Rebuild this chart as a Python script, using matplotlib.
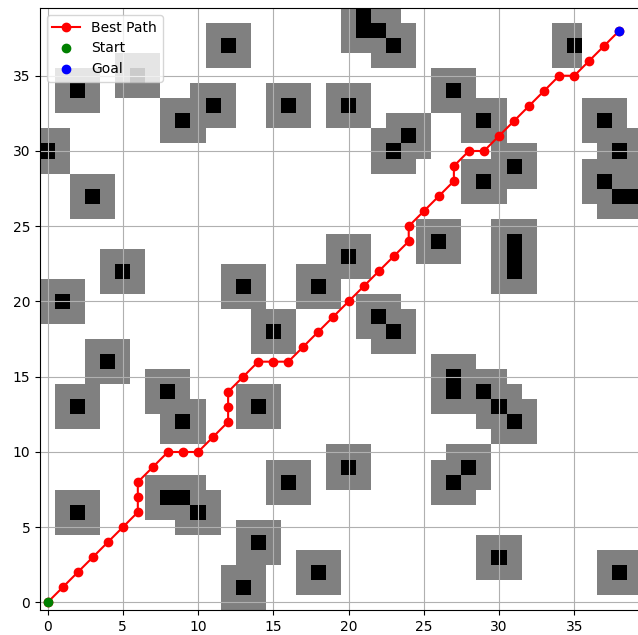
import numpy as np
import matplotlib
matplotlib.use("Agg")
import matplotlib.pyplot as plt
from matplotlib.colors import ListedColormap

grid_size = 40

# black obstacle cells (x, y)
obstacles = [
    (21, 39), (21, 38), (22, 38), (23, 37), (12, 37), (35, 37),
    (6, 35), (2, 34), (27, 34), (11, 33), (16, 33), (20, 33),
    (9, 32), (29, 32), (37, 32), (24, 31), (0, 30), (23, 30), (38, 30),
    (31, 29), (29, 28), (37, 28), (3, 27), (38, 27), (39, 27),
    (26, 24), (31, 24), (31, 23), (31, 22), (20, 23), (5, 22),
    (13, 21), (18, 21), (1, 20), (22, 19), (15, 18), (23, 18),
    (4, 16), (27, 15), (27, 14), (8, 14), (29, 14),
    (2, 13), (14, 13), (30, 13), (9, 12), (31, 12),
    (20, 9), (28, 9), (16, 8), (27, 8), (8, 7), (9, 7),
    (2, 6), (10, 6), (14, 4), (30, 3), (18, 2), (38, 2), (13, 1),
]
inflate = 1
# cells next to an obstacle that stay free
free_cells = [(36, 36), (36, 37), (36, 38)]

path_x = [0, 1, 2, 3, 4, 5, 6, 6, 6, 7, 8, 9, 10, 11, 12, 12, 12, 13, 14, 15,
          16, 17, 18, 19, 20, 21, 22, 23, 24, 24, 25, 26, 27, 27, 28, 29, 30,
          31, 32, 33, 34, 35, 36, 37, 38]
path_y = [0, 1, 2, 3, 4, 5, 6, 7, 8, 9, 10, 10, 10, 11, 12, 13, 14, 15, 16, 16,
          16, 17, 18, 19, 20, 21, 22, 23, 24, 25, 26, 27, 28, 29, 30, 30, 31,
          32, 33, 34, 35, 35, 36, 37, 38]
start = (0, 0)
goal = (38, 38)

grid = np.zeros((grid_size, grid_size))
for ox, oy in obstacles:
    y0, y1 = max(oy - inflate, 0), min(oy + inflate + 1, grid_size)
    x0, x1 = max(ox - inflate, 0), min(ox + inflate + 1, grid_size)
    grid[y0:y1, x0:x1] = np.maximum(grid[y0:y1, x0:x1], 0.5)
for fx, fy in free_cells:
    grid[fy, fx] = 0
for ox, oy in obstacles:
    grid[oy, ox] = 1

fig = plt.figure(figsize=(6.38, 6.35), dpi=100)
ax = fig.add_axes([40 / 638, 25 / 635, 602 / 638, 602 / 635])
ax.imshow(grid, origin="lower", cmap=ListedColormap(["white", "gray", "black"]),
          vmin=0, vmax=1, interpolation="nearest")
ax.plot(path_x, path_y, "r-o", label="Best Path")
ax.plot(start[0], start[1], "go", label="Start")
ax.plot(goal[0], goal[1], "bo", label="Goal")
ax.set_xticks(np.arange(0, grid_size, 5))
ax.set_yticks(np.arange(0, grid_size, 5))
ax.set_xlim(-0.5, grid_size - 0.5)
ax.set_ylim(-0.5, grid_size - 0.5)
ax.grid(True)
ax.legend(loc="upper left")

fig.savefig("out.png", dpi=100)
